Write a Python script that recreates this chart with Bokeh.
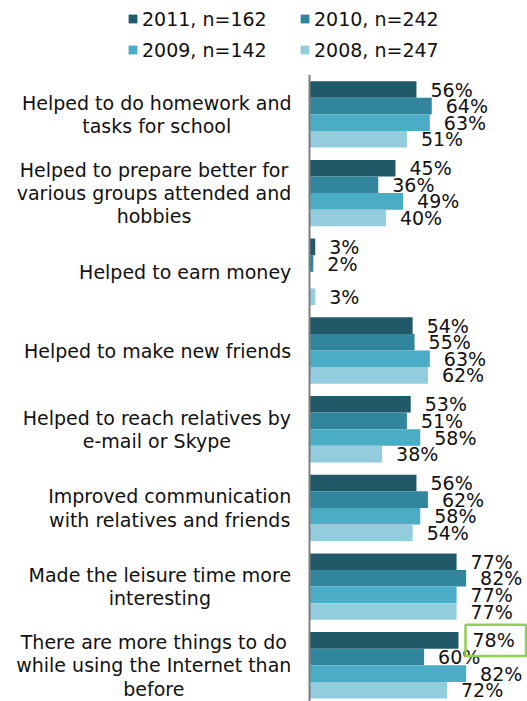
from bokeh.plotting import figure
from bokeh.models import ColumnDataSource, Range1d, Legend, LegendItem
from bokeh.core.properties import value
from bokeh.embed import file_html
from bokeh.resources import INLINE

# ---------------- data ----------------
categories = [
    "Helped to do homework and\ntasks for school",
    "Helped to prepare better for\nvarious groups attended and\nhobbies",
    "Helped to earn money",
    "Helped to make new friends",
    "Helped to reach relatives by\ne-mail or Skype",
    "Improved communication\nwith relatives and friends",
    "Made the leisure time more\ninteresting",
    "There are more things to do\nwhile using the Internet than\nbefore",
]
series_names = ["2011, n=162", "2010, n=242", "2009, n=142", "2008, n=247"]
v2011 = [56, 45, 3, 54, 53, 56, 77, 78]
v2010 = [64, 36, 2, 55, 51, 62, 82, 60]
v2009 = [63, 49, None, 63, 58, 58, 77, 82]
v2008 = [51, 40, 3, 62, 38, 54, 77, 72]
series_values = [v2011, v2010, v2009, v2008]
colors = ["#215968", "#31859C", "#4BACC6", "#93CDDD"]
highlight_group, highlight_series = 7, 0   # the boxed value

# ---------------- layout ----------------
W, H = 527, 701
AXIS_X = 309          # px of the value axis
PX_PER_PCT = 1.91
PITCH = 78.7          # px per category
G0 = 113.9            # px of first category centre
BAR_PX = 16.6
FONT = "DejaVu Sans"
FS = 19
LINE_PX = 23.3
LABEL_GAP = 18

BH = BAR_PX / PITCH
x_range = Range1d(-AXIS_X / PX_PER_PCT, (W - AXIS_X) / PX_PER_PCT)
y_range = Range1d((H - G0) / PITCH, -G0 / PITCH)

p = figure(width=W, height=H, x_range=x_range, y_range=y_range,
           output_backend="svg", toolbar_location=None,
           x_axis_type=None, y_axis_type=None, min_border=0)
p.outline_line_color = None
p.grid.visible = False
p.background_fill_color = "white"

renderers = []
for j, (name, vals, col) in enumerate(zip(series_names, series_values, colors)):
    ys, xs, labs = [], [], []
    for i, v in enumerate(vals):
        if v is None:
            continue
        ys.append(i + (j - 1.5) * BH)
        xs.append(v)
        labs.append(f"{v}%")
    src = ColumnDataSource(dict(y=ys, right=xs, lab=labs))
    r = p.hbar(y="y", left=0, right="right", height=BH, source=src,
               fill_color=col, line_color=None)
    renderers.append(r)
    p.text(x="right", y="y", text="lab", source=src, x_offset=14,
           text_align="left", text_baseline="middle",
           text_font=value(FONT), text_font_size=f"{FS}px", text_color="#111111")

# value axis line (category boundaries)
p.segment(x0=[0], x1=[0], y0=[-0.5], y1=[len(categories) - 0.5],
          line_color="#7f7f7f", line_width=2)

# highlight box around the boxed value label
hv = series_values[highlight_series][highlight_group]
hy = highlight_group + (highlight_series - 1.5) * BH
p.quad(left=[hv + 7 / PX_PER_PCT], right=[x_range.end - 1.5 / PX_PER_PCT],
       top=[hy - 0.94 * BH], bottom=[hy + 0.94 * BH],
       fill_color=None, line_color="#92D050", line_width=2.5)

# category labels: right-aligned blocks with centred lines
ADV = {' ': 651, '-': 739, '%': 1946, 'H': 1540, 'I': 604, 'M': 1767, 'S': 1300,
       'T': 1251, 'a': 1255, 'b': 1300, 'c': 1126, 'd': 1300, 'e': 1260, 'f': 721,
       'g': 1300, 'h': 1298, 'i': 569, 'k': 1186, 'l': 569, 'm': 1995, 'n': 1298,
       'o': 1253, 'p': 1300, 'r': 842, 's': 1067, 't': 803, 'u': 1298, 'v': 1212,
       'w': 1675, 'x': 1212, 'y': 1212}


def width(s):
    return sum(ADV.get(c, 1250) for c in s) / 2048 * FS


lx, ly, lxo, lyo, lt = [], [], [], [], []
for i, cat in enumerate(categories):
    lines = cat.split("\n")
    wmax = max(width(s) for s in lines)
    n = len(lines)
    for k, s in enumerate(lines):
        lx.append(0)
        ly.append(i)
        lxo.append(-(LABEL_GAP + wmax / 2))
        lyo.append((k - (n - 1) / 2) * LINE_PX)
        lt.append(s)
lsrc = ColumnDataSource(dict(x=lx, y=ly, xo=lxo, yo=lyo, t=lt))
p.text(x="x", y="y", text="t", x_offset="xo", y_offset="yo", source=lsrc,
       text_align="center", text_baseline="middle",
       text_font=value(FONT), text_font_size=f"{FS}px", text_color="#111111")

# legend
items = [LegendItem(label=n, renderers=[r]) for n, r in zip(series_names, renderers)]
legend = Legend(items=items, orientation="horizontal", ncols=2,
                location=(127, H - 3 - 62),
                glyph_width=11, glyph_height=11, label_standoff=4,
                label_width=157, label_height=31, spacing=0, padding=0, margin=0,
                label_text_font=FONT, label_text_font_size=f"{FS}px",
                label_text_color="#111111",
                border_line_color=None, background_fill_alpha=0)
p.add_layout(legend)

open("out.html", "w").write(file_html(p, INLINE))
